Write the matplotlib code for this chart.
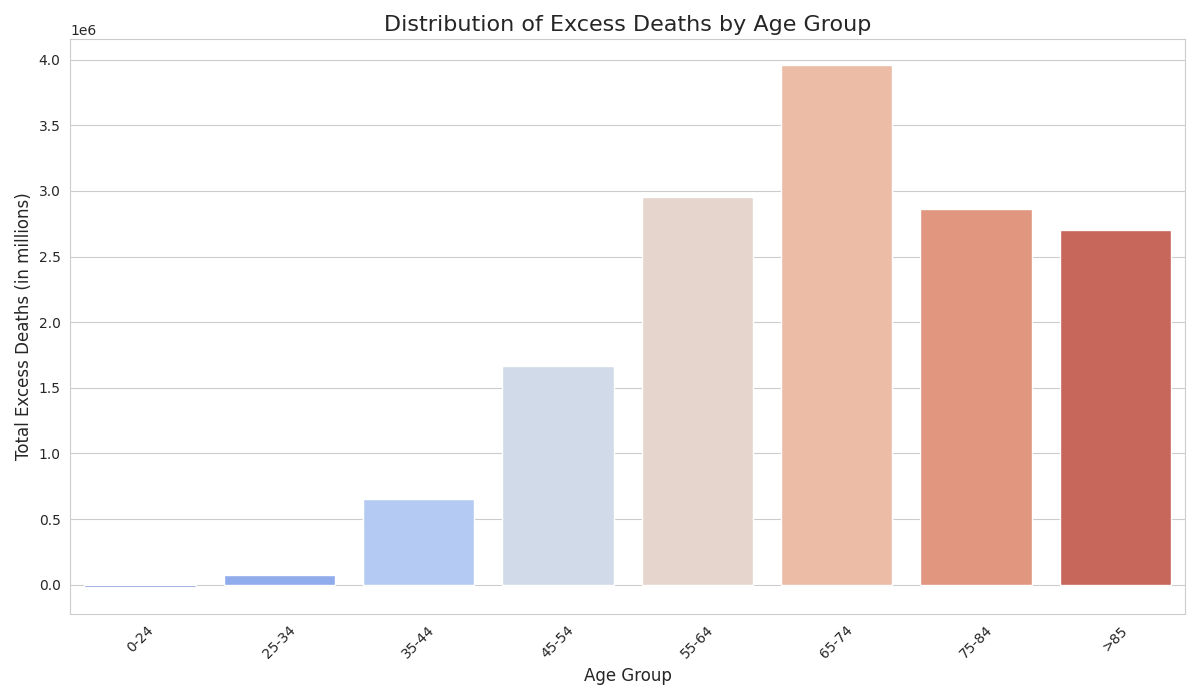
import matplotlib

matplotlib.use("Agg")
import matplotlib.pyplot as plt
import seaborn as sns

age_groups = ["0-24", "25-34", "35-44", "45-54", "55-64", "65-74", "75-84", ">85"]
excess_deaths = [-20000, 72000, 655000, 1665000, 2955000, 3955000, 2860000, 2705000]

sns.set_style("whitegrid")
fig, ax = plt.subplots(figsize=(12, 7), dpi=100)
sns.barplot(x=age_groups, y=excess_deaths, hue=age_groups, palette="coolwarm",
            legend=False, ax=ax)
ax.set_title("Distribution of Excess Deaths by Age Group", fontsize=16)
ax.set_xlabel("Age Group", fontsize=12)
ax.set_ylabel("Total Excess Deaths (in millions)", fontsize=12)
plt.xticks(rotation=45)
fig.tight_layout()
fig.savefig("out.png")
